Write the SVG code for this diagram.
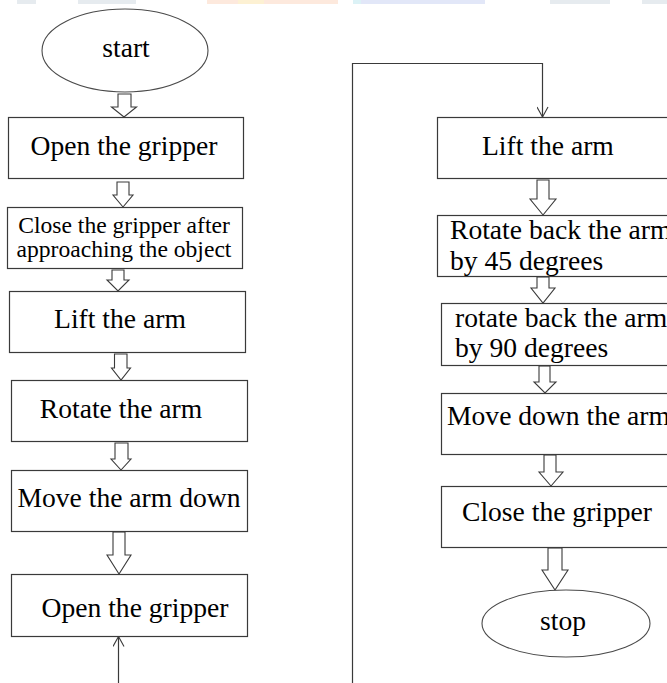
<svg xmlns="http://www.w3.org/2000/svg" width="667" height="683" viewBox="0 0 667 683">
  <style>
    .box { fill: #ffffff; stroke: #3a3a3a; stroke-width: 1.2; }
    .term { fill: #ffffff; stroke: #4a4a4a; stroke-width: 1.1; }
    .lbl { font-family: "Liberation Serif", "Times New Roman", serif; font-size: 27.6px; fill: #000000; }
    .sm { font-size: 23.6px; }
    .mid { text-anchor: middle; }
    .flow { fill: #ffffff; stroke: #3a3a3a; stroke-width: 1.1; stroke-linejoin: miter; }
    .wire { fill: none; stroke: #3a3a3a; stroke-width: 1.2; }
  </style>
  <defs>
    <marker id="vee" viewBox="0 0 12 12" refX="11" refY="6" markerWidth="12" markerHeight="12" markerUnits="userSpaceOnUse" orient="auto">
      <path d="M1,0.5 L11,6 L1,11.5" fill="none" stroke="#3a3a3a" stroke-width="1.1"/>
    </marker>
  </defs>

  <rect width="667" height="683" fill="#ffffff"/>

  <!-- faint header bar fragments along the top edge -->
  <g id="header-strip" opacity="0.9">
    <rect x="17" y="0" width="19" height="4" fill="#e4e9ee"/>
    <rect x="78" y="0" width="58" height="4" fill="#e4e9ee"/>
    <rect x="207" y="0" width="131" height="4" fill="#fde7da"/>
    <rect x="238" y="0" width="26" height="4" fill="#fdf0cf"/>
    <rect x="353" y="0" width="132" height="4" fill="#dfe5f8"/>
    <rect x="353" y="0" width="8" height="4" fill="#d9f1f6"/>
    <rect x="550" y="0" width="60" height="4" fill="#e4e9ee"/>
    <rect x="642" y="0" width="25" height="4" fill="#e4e9ee"/>
  </g>

  <!-- connectors: block arrows between steps, plus the page-spanning loop -->
  <g id="connectors">
    <polygon class="flow" points="118,94 131,94 131,107 136.5,107 124,117 111.5,107 118,107"/>
    <polygon class="flow" points="117,182 129,182 129,195 133,195 123,207 113,195 117,195"/>
    <polygon class="flow" points="112,270 124,270 124,280 129,280 118,291 107,280 112,280"/>
    <polygon class="flow" points="114.5,354 127,354 127,368 130.5,368 121,380 111.5,368 114.5,368"/>
    <polygon class="flow" points="115,443 128,443 128,459 131,459 121,470 111,459 115,459"/>
    <polygon class="flow" points="113,532 125,532 125,555 131,555 119,574 107,555 113,555"/>

    <polygon class="flow" points="537,180 549,180 549,199 556,199 543,215 530,199 537,199"/>
    <polygon class="flow" points="537,277 549,277 549,288 555,288 543,303 531,288 537,288"/>
    <polygon class="flow" points="539,366 550,366 550,382 556,382 545,393 534,382 539,382"/>
    <polygon class="flow" points="544,455 556,455 556,472 563,472 551,486 539,472 544,472"/>
    <polygon class="flow" points="548,548 562,548 562,570 568,570 555,590 542,570 548,570"/>

    <path class="wire" d="M118.5,683 L118.5,636.5" marker-end="url(#vee)"/>
    <path class="wire" d="M352.5,683 L352.5,63.5 L542.5,63.5 L542.5,117" marker-end="url(#vee)"/>
  </g>

  <!-- left column -->
  <g id="start">
    <ellipse class="term" cx="125" cy="50.5" rx="83" ry="41.5"/>
    <text class="lbl mid" x="126" y="57">start</text>
  </g>
  <g id="open-gripper-1">
    <rect class="box" x="8.5" y="117.5" width="235" height="61"/>
    <text class="lbl mid" x="124" y="155">Open the gripper</text>
  </g>
  <g id="close-gripper-approach">
    <rect class="box" x="7.5" y="207.5" width="235" height="61"/>
    <text class="lbl sm mid" x="124" y="233">Close the gripper after</text>
    <text class="lbl sm mid" x="124" y="257">approaching the object</text>
  </g>
  <g id="lift-arm-1">
    <rect class="box" x="9.5" y="291.5" width="236" height="61"/>
    <text class="lbl mid" x="120" y="328">Lift the arm</text>
  </g>
  <g id="rotate-arm">
    <rect class="box" x="11.5" y="380.5" width="236" height="61"/>
    <text class="lbl mid" x="121" y="418">Rotate the arm</text>
  </g>
  <g id="move-arm-down">
    <rect class="box" x="11.5" y="470.5" width="236" height="61"/>
    <text class="lbl mid" x="129" y="507">Move the arm down</text>
  </g>
  <g id="open-gripper-2">
    <rect class="box" x="11.5" y="574.5" width="236" height="62"/>
    <text class="lbl mid" x="135" y="617">Open the gripper</text>
  </g>

  <!-- right column (boxes run past the right edge) -->
  <g id="lift-arm-2">
    <rect class="box" x="437.5" y="117.5" width="250" height="61"/>
    <text class="lbl" x="482" y="155">Lift the arm</text>
  </g>
  <g id="rotate-back-45">
    <rect class="box" x="437.5" y="215.5" width="250" height="61"/>
    <text class="lbl" x="450" y="239">Rotate back the arm</text>
    <text class="lbl" x="450" y="270">by 45 degrees</text>
  </g>
  <g id="rotate-back-90">
    <rect class="box" x="441.5" y="303.5" width="250" height="62"/>
    <text class="lbl" x="455" y="327">rotate back the arm</text>
    <text class="lbl" x="455" y="357">by 90 degrees</text>
  </g>
  <g id="move-down-arm">
    <rect class="box" x="441.5" y="393.5" width="250" height="61"/>
    <text class="lbl" x="447" y="425">Move down the arm</text>
  </g>
  <g id="close-gripper">
    <rect class="box" x="441.5" y="486.5" width="250" height="61"/>
    <text class="lbl" x="462" y="521">Close the gripper</text>
  </g>
  <g id="stop">
    <ellipse class="term" cx="566" cy="623.5" rx="84" ry="33.5"/>
    <text class="lbl mid" x="563" y="630">stop</text>
  </g>
</svg>
